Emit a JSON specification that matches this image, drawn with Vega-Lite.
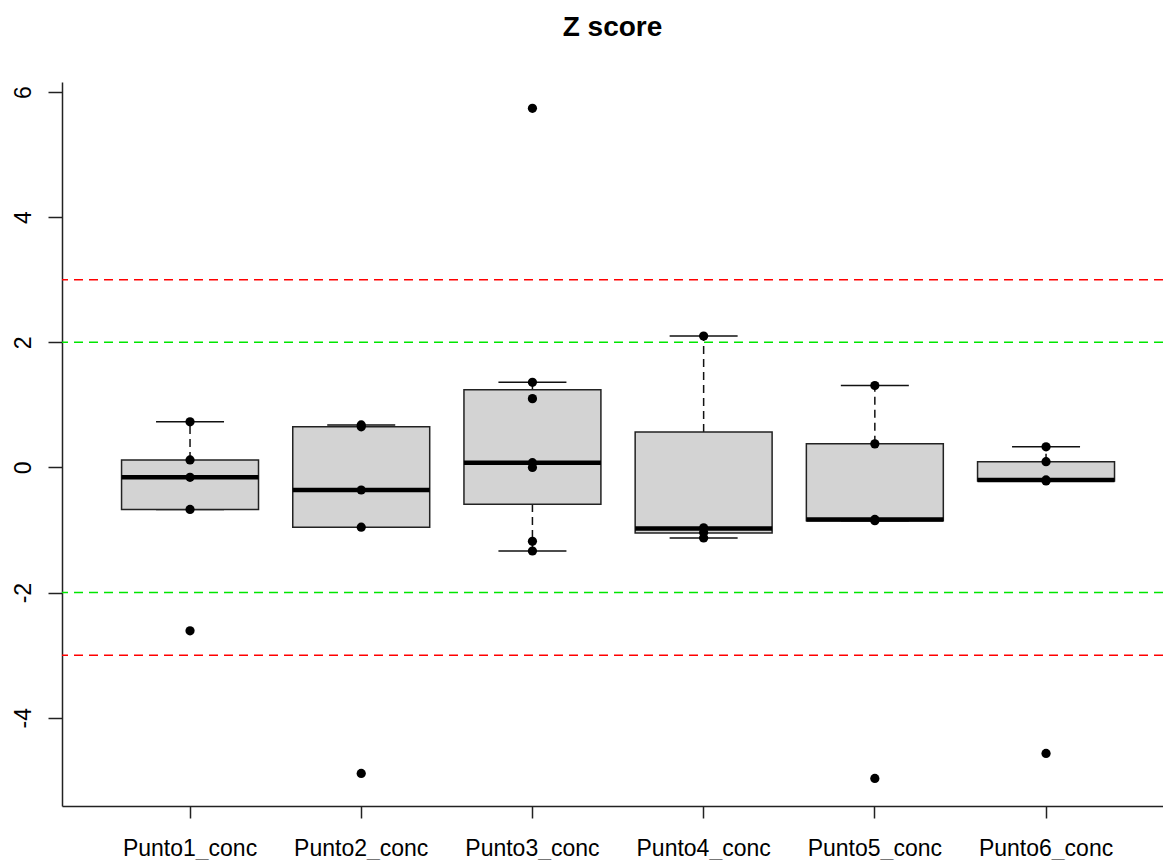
{
  "$schema": "https://vega.github.io/schema/vega-lite/v6.json",
  "autosize": {"type": "none"},
  "padding": {"left": 62, "top": 82, "right": 0, "bottom": 54},
  "width": 1101,
  "height": 724,
  "background": "white",
  "title": {"text": "Z score", "fontSize": 28, "fontWeight": "bold", "font": "Liberation Sans", "color": "#000", "anchor": "middle", "baseline": "alphabetic", "offset": 18},
  "config": {
    "view": {"stroke": null},
    "font": "Liberation Sans"
  },
  "datasets": {
    "stats": [
      {"group": "Punto1_conc", "lower": -0.67, "q1": -0.67, "median": -0.157, "q3": 0.12, "upper": 0.73},
      {"group": "Punto2_conc", "lower": -0.955, "q1": -0.955, "median": -0.36, "q3": 0.65, "upper": 0.68},
      {"group": "Punto3_conc", "lower": -1.335, "q1": -0.586, "median": 0.077, "q3": 1.24, "upper": 1.36},
      {"group": "Punto4_conc", "lower": -1.127, "q1": -1.046, "median": -0.976, "q3": 0.565, "upper": 2.1},
      {"group": "Punto5_conc", "lower": -0.85, "q1": -0.85, "median": -0.83, "q3": 0.377, "upper": 1.31},
      {"group": "Punto6_conc", "lower": -0.215, "q1": -0.215, "median": -0.2, "q3": 0.093, "upper": 0.33}
    ],
    "points": [
      {"group": "Punto1_conc", "z": 0.73},
      {"group": "Punto1_conc", "z": 0.12},
      {"group": "Punto1_conc", "z": -0.157},
      {"group": "Punto1_conc", "z": -0.67},
      {"group": "Punto1_conc", "z": -2.61},
      {"group": "Punto2_conc", "z": 0.68},
      {"group": "Punto2_conc", "z": 0.65},
      {"group": "Punto2_conc", "z": -0.36},
      {"group": "Punto2_conc", "z": -0.955},
      {"group": "Punto2_conc", "z": -4.89},
      {"group": "Punto3_conc", "z": 5.74},
      {"group": "Punto3_conc", "z": 1.36},
      {"group": "Punto3_conc", "z": 1.1},
      {"group": "Punto3_conc", "z": 0.077},
      {"group": "Punto3_conc", "z": 0.0},
      {"group": "Punto3_conc", "z": -1.18},
      {"group": "Punto3_conc", "z": -1.335},
      {"group": "Punto4_conc", "z": 2.1},
      {"group": "Punto4_conc", "z": -0.965},
      {"group": "Punto4_conc", "z": -1.04},
      {"group": "Punto4_conc", "z": -1.127},
      {"group": "Punto5_conc", "z": 1.31},
      {"group": "Punto5_conc", "z": 0.377},
      {"group": "Punto5_conc", "z": -0.83},
      {"group": "Punto5_conc", "z": -0.85},
      {"group": "Punto5_conc", "z": -4.97},
      {"group": "Punto6_conc", "z": 0.33},
      {"group": "Punto6_conc", "z": 0.093},
      {"group": "Punto6_conc", "z": -0.2},
      {"group": "Punto6_conc", "z": -0.215},
      {"group": "Punto6_conc", "z": -4.57}
    ],
    "refs": [
      {"z": 3, "kind": "limit3"},
      {"z": -3, "kind": "limit3"},
      {"z": 2, "kind": "limit2"},
      {"z": -2, "kind": "limit2"}
    ]
  },
  "layer": [
    {
      "data": {"name": "stats"},
      "mark": {"type": "rule", "color": "#111", "strokeWidth": 1.5, "strokeDash": [8, 5]},
      "encoding": {
        "x": {
          "field": "group", "type": "nominal", "sort": null, "title": null,
          "scale": {"domain": ["Punto1_conc", "Punto2_conc", "Punto3_conc", "Punto4_conc", "Punto5_conc", "Punto6_conc"], "paddingInner": 0, "paddingOuter": 0.2155, "align": 0.575},
          "axis": {"bandPosition": 0.5, "labelAngle": 0, "labelFontSize": 23, "labelFont": "Liberation Sans", "labelColor": "#000", "labelPadding": 19, "labelBaseline": "top", "labelAlign": "center", "tickSize": 12, "tickColor": "#222", "tickWidth": 1.5, "domainColor": "#222", "domainWidth": 1.5, "grid": false, "labelOverlap": false}
        },
        "y": {
          "field": "q3", "type": "quantitative", "title": null,
          "scale": {"domain": [-5.41, 6.16], "nice": false, "zero": false},
          "axis": {"values": [-4, -2, 0, 2, 4, 6], "labelExpr": "datum.value < 0 ? '-' + abs(datum.value) : '' + datum.value", "labelAngle": -90, "labelAlign": "center", "labelBaseline": "bottom", "labelFontSize": 23, "labelFont": "Liberation Sans", "labelColor": "#000", "labelPadding": 13, "tickSize": 14, "tickColor": "#222", "tickWidth": 1.5, "domainColor": "#222", "domainWidth": 1.5, "grid": false}
        },
        "y2": {"field": "upper"}
      }
    },
    {
      "data": {"name": "stats"},
      "mark": {"type": "rule", "color": "#111", "strokeWidth": 1.5, "strokeDash": [8, 5]},
      "encoding": {
        "x": {"field": "group", "type": "nominal", "sort": null},
        "y": {"field": "lower", "type": "quantitative"},
        "y2": {"field": "q1"}
      }
    },
    {
      "data": {"name": "stats"},
      "mark": {"type": "tick", "color": "#111", "thickness": 1.5, "opacity": 1},
      "encoding": {
        "x": {"field": "group", "type": "nominal", "sort": null},
        "y": {"field": "upper", "type": "quantitative"},
        "size": {"value": 68}
      }
    },
    {
      "data": {"name": "stats"},
      "mark": {"type": "tick", "color": "#111", "thickness": 1.5, "opacity": 1},
      "encoding": {
        "x": {"field": "group", "type": "nominal", "sort": null},
        "y": {"field": "lower", "type": "quantitative"},
        "size": {"value": 68}
      }
    },
    {
      "data": {"name": "stats"},
      "mark": {"type": "bar", "fill": "#D3D3D3", "stroke": "#222", "strokeWidth": 1.5, "width": {"band": 0.8}},
      "encoding": {
        "x": {"field": "group", "type": "nominal", "sort": null},
        "y": {"field": "q1", "type": "quantitative"},
        "y2": {"field": "q3"}
      }
    },
    {
      "data": {"name": "stats"},
      "mark": {"type": "tick", "color": "#000", "thickness": 4.5, "opacity": 1},
      "encoding": {
        "x": {"field": "group", "type": "nominal", "sort": null},
        "y": {"field": "median", "type": "quantitative"},
        "size": {"value": 137}
      }
    },
    {
      "data": {"name": "refs"},
      "mark": {"type": "rule", "strokeWidth": 1.5, "strokeDash": [9, 6]},
      "encoding": {
        "y": {"field": "z", "type": "quantitative"},
        "color": {"field": "kind", "type": "nominal", "scale": {"domain": ["limit3", "limit2"], "range": ["#FF0000", "#00E600"]}, "legend": null}
      }
    },
    {
      "mark": {"type": "rule", "color": "#222", "strokeWidth": 1.5},
      "encoding": {
        "y": {"datum": 6.16}
      }
    },
    {
      "data": {"name": "points"},
      "mark": {"type": "circle", "color": "#000", "opacity": 1, "size": 85},
      "encoding": {
        "x": {"field": "group", "type": "nominal", "sort": null},
        "y": {"field": "z", "type": "quantitative"}
      }
    }
  ]
}
